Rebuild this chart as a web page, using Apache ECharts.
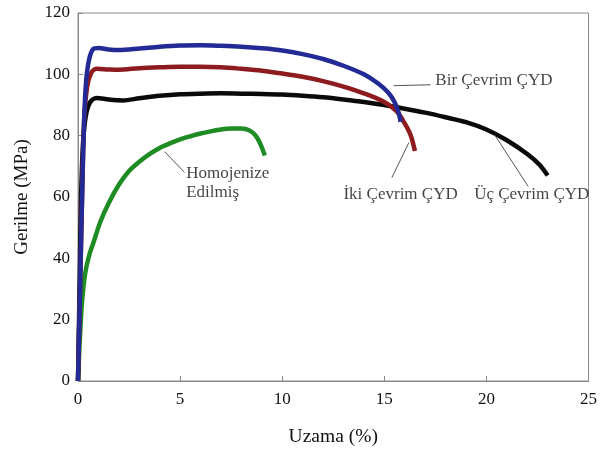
<!DOCTYPE html>
<html>
<head>
<meta charset="utf-8">
<script src="https://cdn.jsdelivr.net/npm/echarts@6/dist/echarts.min.js"></script>
<style>
  html, body { margin: 0; padding: 0; background: #fff; }
  #view { width: 600px; height: 452px; }
</style>
</head>
<body>
<div id="view"></div>
<script>
var myCharts = echarts.init(document.getElementById("view"));

/* eksen değerleri */
var xTicks = [0, 5, 10, 15, 20, 25];
var yTicks = [0, 20, 40, 60, 80, 100, 120];

/* eğriler [uzama %, gerilme MPa] */
var birCevrim = [[0, 0], [0.1, 30], [0.2, 60], [0.3, 85], [0.4, 98], [0.55, 105], [0.75, 108.3], [1, 108.6],
    [1.5, 108.1], [2, 107.9], [3, 108.4], [4, 109], [5, 109.4], [6, 109.5], [7, 109.3], [8, 109], [9, 108.5],
    [10, 107.8], [11, 106.6], [12, 105], [13, 102.8], [14, 100], [14.7, 97], [15.2, 94], [15.5, 91],
    [15.7, 87.5], [15.8, 84.5]];
var ikiCevrim = [[0, 0], [0.1, 30], [0.2, 60], [0.3, 85], [0.45, 96], [0.65, 100.5], [0.9, 101.8], [1.5, 101.6],
    [2, 101.5], [3, 102], [4, 102.3], [5, 102.5], [6, 102.5], [7, 102.3], [8, 101.8], [9, 101.2], [10, 100.3],
    [11, 99.2], [12, 97.8], [13, 96], [14, 93.8], [15, 91], [15.6, 88], [16, 84], [16.3, 80], [16.5, 75]];
var ucCevrim = [[0, 0], [0.05, 20], [0.1, 40], [0.15, 60], [0.25, 78], [0.4, 87], [0.6, 91], [0.9, 92.3],
    [1.5, 91.8], [2.2, 91.5], [3, 92.2], [4, 93], [5, 93.5], [6, 93.7], [7, 93.8], [8, 93.7], [9, 93.6],
    [10, 93.4], [11, 93], [12, 92.5], [13, 91.8], [14, 91], [15, 90], [16, 88.8], [17, 87.5], [18, 86],
    [19, 84.4], [20, 82], [21, 78.5], [22, 74], [22.6, 70.5], [23, 67]];
var homojenize = [[0, 0], [0.05, 8], [0.1, 15], [0.2, 26], [0.35, 35], [0.55, 41], [0.75, 45], [1.1, 52],
    [1.5, 58], [2, 64], [2.5, 68.5], [3, 71.5], [3.5, 74], [4, 76], [4.5, 77.5], [5, 78.8], [5.5, 79.8],
    [6, 80.7], [6.5, 81.4], [7, 82], [7.5, 82.3], [8, 82.3], [8.4, 81.7], [8.7, 80], [8.95, 77], [9.15, 73.5]];

/* etiketler ve çizgileri */
var labelNames = ['Bir Çevrim ÇYD', 'İki Çevrim ÇYD', 'Üç Çevrim ÇYD', 'Homojenize\nEdilmiş'];
var labelPos = [[17.5, 97.9], [13.0, 60.8], [19.4, 60.8], [5.3, 64.4]];
var leaders = [
    [[15.46, 96.3], [17.27, 96.6]],
    [[16.2, 77.7], [15.37, 66.3]],
    [[20.4, 80.3], [22.05, 63.4]],
    [[4.24, 74.8], [5.22, 68]]
];

var serif = 'Liberation Serif';

function curve(name, data, color) {
    return {
        name: name,
        type: 'line',
        data: data,
        smooth: 0.3,
        symbol: 'none',
        lineStyle: { color: color, width: 4.5 },
        z: 3
    };
}

var series = [
    curve('Homojenize Edilmiş', homojenize, '#1e8c23'),
    curve('Üç Çevrim ÇYD', ucCevrim, '#0a0a0a'),
    curve('İki Çevrim ÇYD', ikiCevrim, '#8e1c1f'),
    curve('Bir Çevrim ÇYD', birCevrim, '#232a96')
];

leaders.forEach(function (seg) {
    series.push({
        type: 'line',
        data: seg,
        symbol: 'none',
        silent: true,
        lineStyle: { color: '#555', width: 1 },
        z: 4
    });
});

series.push({
    type: 'scatter',
    symbolSize: 0,
    silent: true,
    data: labelPos.map(function (p, i) {
        return { name: labelNames[i], value: p };
    }),
    label: {
        show: true,
        position: 'right',
        distance: 0,
        formatter: '{b}',
        fontFamily: serif,
        fontSize: 17,
        lineHeight: 19,
        color: '#111'
    },
    z: 5
});

option = {
    animation: false,
    backgroundColor: '#fff',
    grid: {
        left: 78, right: 9, top: 13, bottom: 70,
        show: true,
        borderColor: '#8a8a8a',
        borderWidth: 1
    },
    xAxis: {
        type: 'value',
        min: xTicks[0],
        max: xTicks[xTicks.length - 1],
        interval: 5,
        name: 'Uzama (%)',
        nameLocation: 'middle',
        nameGap: 46,
        nameTextStyle: { fontFamily: serif, fontSize: 19.5, color: '#111' },
        axisLine: { lineStyle: { color: '#8a8a8a' } },
        axisTick: { inside: true, length: 5, lineStyle: { color: '#8a8a8a' } },
        axisLabel: { fontFamily: serif, fontSize: 17, color: '#111', margin: 10 },
        splitLine: { show: false }
    },
    yAxis: {
        type: 'value',
        min: yTicks[0],
        max: yTicks[yTicks.length - 1],
        interval: 20,
        name: 'Gerilme (MPa)',
        nameLocation: 'middle',
        nameGap: 46,
        nameTextStyle: { fontFamily: serif, fontSize: 19, color: '#111' },
        axisLine: { lineStyle: { color: '#8a8a8a' } },
        axisTick: { inside: true, length: 5, lineStyle: { color: '#8a8a8a' } },
        axisLabel: { fontFamily: serif, fontSize: 17, color: '#111', margin: 8 },
        splitLine: { show: false }
    },
    series: series
};

myCharts.setOption(option);
</script>
</body>
</html>
